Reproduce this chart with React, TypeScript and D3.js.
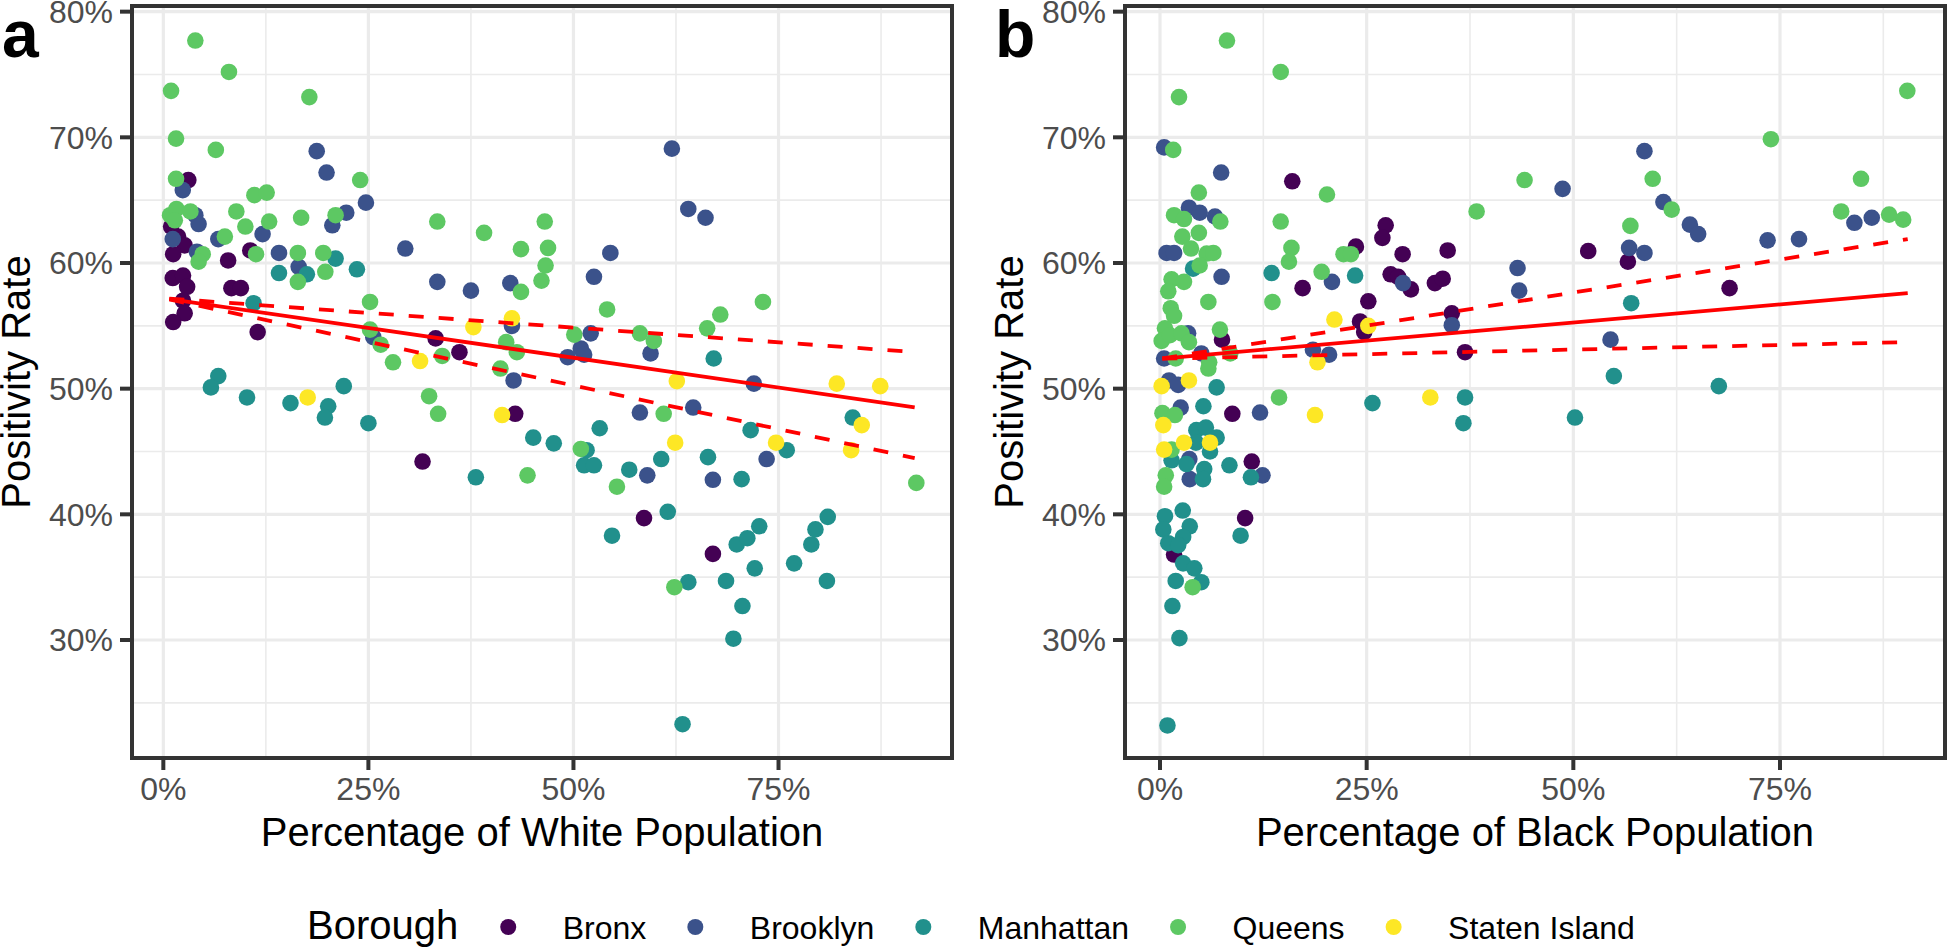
import React from 'react';
import * as d3 from 'd3';

const boroughs = ['Bronx', 'Brooklyn', 'Manhattan', 'Queens', 'Staten Island'];
const boroughColors = ['#440154', '#3B528B', '#21908C', '#5DC863', '#FDE725'];

type Pt = [number, number];

// Panel a: [percentage of White population, positivity rate]
const whiteBronx: Pt[] = [
  [3.05, 66.6], [0.95, 62.9], [1.8, 62.1], [2.6, 61.4], [1.2, 60.7], [1.15, 58.8], [2.4, 59.0],
  [2.9, 58.1], [2.4, 57.0], [2.6, 56.0], [1.2, 55.3], [10.6, 61.0], [7.9, 60.2], [8.3, 58.0],
  [9.45, 58.0], [11.5, 54.5], [33.2, 54.0], [36.1, 52.9], [31.6, 44.2], [42.9, 48.0], [58.6, 39.7],
  [67.0, 36.85],
];
const whiteBrooklyn: Pt[] = [
  [18.7, 68.9], [19.9, 67.2], [2.37, 65.8], [24.7, 64.8], [3.9, 63.8], [4.3, 63.1], [22.3, 64.0],
  [20.6, 63.0], [12.1, 62.3], [6.7, 61.9], [1.15, 61.9], [4.1, 60.9], [14.1, 60.8], [16.5, 59.7],
  [29.5, 61.15], [33.4, 58.5], [37.5, 57.8], [25.6, 54.1], [62.0, 69.1], [64.0, 64.3], [66.1, 63.6],
  [54.5, 60.8], [52.5, 58.9], [42.3, 58.4], [52.1, 54.4], [50.9, 53.2], [49.3, 52.5], [51.3, 52.7],
  [59.4, 52.8], [42.5, 55.0], [42.7, 50.65], [72.0, 50.4], [58.1, 48.1], [64.6, 48.5], [59.0, 43.1],
  [67.0, 42.75], [73.55, 44.4],
];
const whiteManhattan: Pt[] = [
  [14.1, 59.2], [17.5, 59.1], [21.0, 60.35], [23.6, 59.5], [11.0, 56.8], [6.7, 51.0], [5.8, 50.1],
  [10.2, 49.3], [22.0, 50.2], [15.5, 48.85], [20.1, 48.6], [19.7, 47.7], [25.0, 47.25], [38.1, 42.95],
  [67.1, 52.4], [45.1, 46.1], [47.6, 45.65], [53.2, 46.85], [51.6, 45.1], [51.3, 43.9], [52.5, 43.9],
  [56.8, 43.55], [60.7, 44.4], [66.4, 44.55], [70.5, 42.8], [71.6, 46.7], [76.0, 45.1], [84.05, 47.7],
  [54.7, 38.3], [61.5, 40.2], [64.0, 34.6], [68.6, 34.7], [70.6, 32.7], [69.5, 30.1], [63.3, 23.3],
  [69.9, 37.6], [71.2, 38.1], [72.65, 39.05], [72.1, 35.7], [76.9, 36.1], [79.0, 37.6], [79.5, 38.8],
  [81.0, 39.8], [80.9, 34.7],
];
const whiteQueens: Pt[] = [
  [3.9, 77.7], [8.0, 75.2], [0.94, 73.7], [17.8, 73.2], [1.55, 69.9], [6.4, 69.0], [24.0, 66.6],
  [1.55, 66.7], [11.1, 65.4], [12.6, 65.6], [0.82, 63.8], [1.6, 64.3], [1.4, 63.4], [3.3, 64.1],
  [8.9, 64.1], [10.0, 62.9], [21.0, 63.8], [16.8, 63.6], [12.9, 63.3], [7.5, 62.1], [4.8, 60.7],
  [4.3, 60.1], [11.3, 60.7], [16.4, 60.8], [16.4, 58.5], [19.5, 60.8], [19.75, 59.3], [25.2, 56.9],
  [25.2, 54.7], [26.5, 53.5], [28.0, 52.1], [34.0, 52.6], [33.4, 63.3], [39.1, 62.4], [46.5, 63.3],
  [43.6, 61.1], [46.9, 61.2], [46.6, 59.8], [46.1, 58.6], [43.6, 57.7], [54.1, 56.3], [73.1, 56.9],
  [67.9, 55.9], [66.3, 54.8], [58.1, 54.4], [59.8, 53.8], [50.1, 54.3], [41.8, 53.7], [43.1, 52.9],
  [41.1, 51.6], [32.4, 49.4], [33.5, 48.0], [61.0, 48.0], [50.9, 45.2], [44.4, 43.1], [55.3, 42.2],
  [62.3, 34.2], [91.8, 42.5],
];
const whiteStaten: Pt[] = [
  [17.6, 49.3], [31.3, 52.2], [37.8, 54.9], [42.5, 55.6], [41.3, 47.9], [62.6, 50.6], [62.4, 45.7],
  [74.7, 45.7], [82.1, 50.4], [87.4, 50.2], [85.15, 47.1], [83.85, 45.1],
];

// Panel b: [percentage of Black population, positivity rate]
const blackBronx: Pt[] = [
  [16.0, 66.5], [17.25, 58.0], [23.7, 61.3], [27.3, 63.0], [26.9, 62.0], [29.35, 60.7], [27.9, 59.1],
  [28.8, 58.9], [30.35, 57.9], [33.25, 58.4], [34.2, 58.75], [34.8, 61.0], [25.2, 56.95], [24.2, 55.35],
  [24.7, 54.5], [35.3, 56.0], [36.9, 52.9], [7.5, 53.9], [51.8, 60.95], [56.6, 60.1], [68.9, 58.0],
  [8.75, 48.0], [11.1, 44.2], [10.3, 39.7], [1.7, 36.8],
];
const blackBrooklyn: Pt[] = [
  [0.5, 69.2], [7.4, 67.2], [3.5, 64.4], [4.8, 64.0], [6.65, 63.7], [0.8, 60.8], [1.7, 60.8],
  [7.45, 58.9], [20.8, 58.5], [3.4, 54.4], [0.5, 52.4], [5.0, 52.8], [1.1, 50.65], [2.2, 50.3],
  [29.4, 58.4], [35.3, 55.05], [18.5, 53.1], [20.45, 52.7], [12.1, 48.1], [2.5, 48.5], [3.55, 44.4],
  [3.6, 42.8], [12.4, 43.1], [58.6, 68.9], [48.7, 65.9], [60.9, 64.85], [64.1, 63.05], [65.1, 62.3],
  [84.0, 63.2], [86.1, 63.6], [73.5, 61.8], [77.3, 61.9], [56.75, 61.2], [58.6, 60.8], [43.25, 59.6],
  [43.45, 57.8], [54.5, 53.9],
];
const blackManhattan: Pt[] = [
  [4.0, 59.55], [13.5, 59.2], [23.6, 59.0], [6.85, 50.1], [25.7, 48.85], [36.9, 49.3], [36.7, 47.25],
  [5.25, 48.6], [4.4, 46.7], [5.55, 46.9], [6.85, 46.1], [4.35, 45.7], [6.05, 45.0], [1.4, 44.3],
  [3.2, 44.0], [5.35, 43.6], [5.2, 42.8], [8.4, 43.9], [11.0, 42.95], [0.6, 39.85], [2.75, 40.3],
  [0.4, 38.8], [3.6, 39.05], [2.8, 38.2], [1.0, 37.7], [2.2, 37.55], [2.8, 36.1], [4.15, 35.7],
  [1.9, 34.7], [5.0, 34.6], [1.5, 32.7], [2.35, 30.15], [0.9, 23.2], [9.75, 38.3], [57.0, 56.8],
  [54.9, 51.0], [67.6, 50.2], [50.2, 47.7],
];
const blackQueens: Pt[] = [
  [8.1, 77.7], [14.6, 75.2], [2.3, 73.2], [1.6, 69.0], [20.2, 65.45], [4.7, 65.6], [1.7, 63.8],
  [2.9, 63.5], [7.3, 63.3], [14.6, 63.3], [4.7, 62.4], [2.7, 62.1], [3.75, 61.15], [5.65, 60.75],
  [6.45, 60.8], [4.8, 59.8], [1.4, 58.7], [2.9, 58.5], [1.0, 57.75], [1.3, 56.4], [1.7, 55.8],
  [5.85, 56.9], [0.6, 54.8], [0.2, 53.8], [1.2, 54.25], [2.6, 54.4], [3.5, 53.7], [7.25, 54.7],
  [1.9, 52.4], [5.95, 52.1], [5.85, 51.6], [8.5, 52.8], [13.6, 56.9], [15.9, 61.2], [15.6, 60.1],
  [19.55, 59.3], [22.2, 60.7], [23.1, 60.7], [38.3, 64.1], [14.4, 49.3], [0.3, 48.05], [1.8, 47.9],
  [1.4, 45.15], [0.7, 43.1], [0.5, 42.2], [3.95, 34.2], [90.4, 73.7], [73.9, 69.85], [44.1, 66.6],
  [59.6, 66.7], [84.8, 66.7], [61.9, 64.25], [56.9, 62.95], [82.4, 64.1], [88.2, 63.85], [89.9, 63.45],
];
const blackStaten: Pt[] = [
  [0.2, 50.2], [3.5, 50.65], [21.1, 55.5], [25.2, 55.0], [19.05, 52.1], [32.7, 49.3], [18.75, 47.9],
  [0.4, 47.1], [2.9, 45.7], [6.05, 45.7], [0.5, 45.15],
];

const whiteSeries = [whiteBronx, whiteBrooklyn, whiteManhattan, whiteQueens, whiteStaten];
const blackSeries = [blackBronx, blackBrooklyn, blackManhattan, blackQueens, blackStaten];

// Fitted line with slope confidence bounds
const fitWhite = { intercept: 57.2, slope: -0.0948, slopeLow: -0.1389, slopeHigh: -0.0468, xMin: 0.73, xMax: 91.6 };
const fitBlack = { intercept: 52.38, slope: 0.0577, slopeLow: 0.0146, slopeHigh: 0.1053, xMin: 0.28, xMax: 90.45 };

const yTicks = [30, 40, 50, 60, 70, 80];
const yMinor = [25, 35, 45, 55, 65, 75];
const xTicks = [0, 25, 50, 75];
const xMinor = [12.5, 37.5, 62.5, 87.5];

const FONT = '"Liberation Sans", Arial, Helvetica, sans-serif';
const TOP = 6;
const BOTTOM = 758;
const Y_DOMAIN = [20.61, 80.45];

type Fit = typeof fitWhite;

function Panel(props: {
  x0: number; x1: number; xDomain: [number, number]; series: Pt[][]; fit: Fit; xTitle: string; tag: string;
}) {
  const { x0, x1, xDomain, series, fit, xTitle, tag } = props;
  const xs = d3.scaleLinear().domain(xDomain).range([x0, x1]);
  const ys = d3.scaleLinear().domain(Y_DOMAIN).range([BOTTOM, TOP]);
  const line = d3.line<Pt>().x(d => xs(d[0])).y(d => ys(d[1]));
  const mk = (s: number) => line([[fit.xMin, fit.intercept + s * fit.xMin], [fit.xMax, fit.intercept + s * fit.xMax]]) || '';
  const grid = '#EBEBEB';
  return (
    <g>
      {xMinor.map(t => (
        <line key={'xm' + t} x1={xs(t)} x2={xs(t)} y1={TOP} y2={BOTTOM} stroke={grid} strokeWidth={1.6} />
      ))}
      {yMinor.map(t => (
        <line key={'ym' + t} x1={x0} x2={x1} y1={ys(t)} y2={ys(t)} stroke={grid} strokeWidth={1.6} />
      ))}
      {xTicks.map(t => (
        <line key={'xM' + t} x1={xs(t)} x2={xs(t)} y1={TOP} y2={BOTTOM} stroke={grid} strokeWidth={3.2} />
      ))}
      {yTicks.map(t => (
        <line key={'yM' + t} x1={x0} x2={x1} y1={ys(t)} y2={ys(t)} stroke={grid} strokeWidth={3.2} />
      ))}
      {series.map((pts, i) => (
        <g key={'s' + i} fill={boroughColors[i]}>
          {pts.map((p, j) => (
            <circle key={j} cx={xs(p[0])} cy={ys(p[1])} r={8.3} />
          ))}
        </g>
      ))}
      <path d={mk(fit.slope)} stroke="#FF0000" strokeWidth={3.8} fill="none" />
      <path d={mk(fit.slopeHigh)} stroke="#FF0000" strokeWidth={3.8} fill="none" strokeDasharray="15 15" />
      <path d={mk(fit.slopeLow)} stroke="#FF0000" strokeWidth={3.8} fill="none" strokeDasharray="15 15" />
      <rect x={x0} y={TOP} width={x1 - x0} height={BOTTOM - TOP} fill="none" stroke="#333333" strokeWidth={4} />
      {yTicks.map(t => (
        <g key={'yt' + t}>
          <line x1={x0 - 12} x2={x0} y1={ys(t)} y2={ys(t)} stroke="#333333" strokeWidth={4} />
          <text x={x0 - 19} y={ys(t) + 11.5} textAnchor="end" fontSize={32} fill="#4D4D4D" fontFamily={FONT}>{t}%</text>
        </g>
      ))}
      {xTicks.map(t => (
        <g key={'xt' + t}>
          <line x1={xs(t)} x2={xs(t)} y1={BOTTOM} y2={BOTTOM + 12} stroke="#333333" strokeWidth={4} />
          <text x={xs(t)} y={800} textAnchor="middle" fontSize={32} fill="#4D4D4D" fontFamily={FONT}>{t}%</text>
        </g>
      ))}
      <text x={(x0 + x1) / 2} y={846} textAnchor="middle" fontSize={40} fill="#000" fontFamily={FONT}>{xTitle}</text>
      <text transform={`translate(${x0 - 102},${(TOP + BOTTOM) / 2}) rotate(-90)`} textAnchor="middle" fontSize={40} fill="#000" fontFamily={FONT}>Positivity Rate</text>
      <text x={x0 - 130} y={57} fontSize={66} fontWeight="bold" fill="#000" fontFamily={FONT}>{tag}</text>
    </g>
  );
}

function measure(text: string, size: number): number {
  try {
    const c = document.createElement('canvas').getContext('2d');
    if (c) {
      c.font = `${size}px ${FONT}`;
      return c.measureText(text).width;
    }
  } catch (e) { /* ignore */ }
  return text.length * size * 0.55;
}

function Legend() {
  const y = 939;
  const items: { cx: number; tx: number; label: string; color: string }[] = [];
  let cursor = 307 + measure('Borough', 40) + 50;
  boroughs.forEach((b, i) => {
    const cx = cursor;
    const tx = cx + 54.5;
    items.push({ cx, tx, label: b, color: boroughColors[i] });
    cursor = tx + measure(b, 32) + 49;
  });
  return (
    <g>
      <text x={307} y={y} fontSize={40} fontFamily={FONT} fill="#000">Borough</text>
      {items.map(it => (
        <g key={it.label}>
          <circle cx={it.cx} cy={927} r={8} fill={it.color} />
          <text x={it.tx} y={y} fontSize={32} fontFamily={FONT} fill="#000">{it.label}</text>
        </g>
      ))}
    </g>
  );
}

export default function App() {
  return (
    <svg width={1947} height={951} style={{ position: 'absolute', left: 0, top: 0, background: '#fff' }}>
      <rect x={0} y={0} width={1947} height={951} fill="#fff" />
      <Panel x0={132} x1={952} xDomain={[-3.82, 96.15]} series={whiteSeries} fit={fitWhite}
        xTitle="Percentage of White Population" tag="a" />
      <Panel x0={1125} x1={1945} xDomain={[-4.234, 94.96]} series={blackSeries} fit={fitBlack}
        xTitle="Percentage of Black Population" tag="b" />
      <Legend />
    </svg>
  );
}
